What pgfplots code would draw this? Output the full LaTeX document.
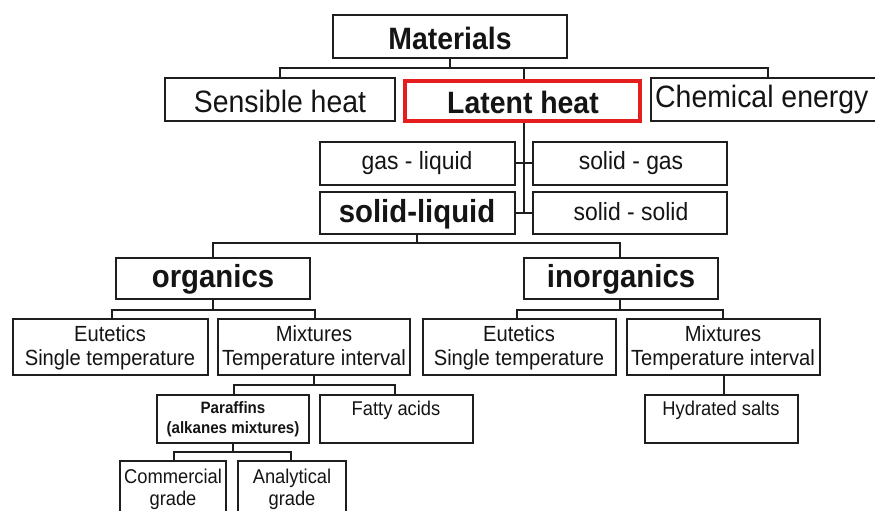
\documentclass[border=0pt]{standalone}
\usepackage{fontspec}
\setmainfont{Liberation Sans}
\usepackage{pgfplots}
\pgfplotsset{compat=1.18}
\definecolor{boxInk}{HTML}{1E1E1E}
\definecolor{hiRed}{HTML}{E41E1E}

% box from (x1,y1) to (x2,y2), pixel coordinates with y downwards
\newcommand{\bx}[4]{\addplot[boxInk, line width=1.5pt, line join=miter, mark=none]
  coordinates {(#1,#2) (#3,#2) (#3,#4) (#1,#4)} -- cycle;}
\newcommand{\conn}[1]{\addplot[boxInk, line width=1.4pt, mark=none] coordinates {#1};}
\newcommand{\fs}[2]{\fontsize{#1}{#2}\selectfont}
\tikzset{lab/.style={xscale=0.92, text=black!92}}

\begin{document}
\begin{tikzpicture}
\useasboundingbox (0,0) rectangle (875bp,511bp);
\begin{axis}[
  at={(0,0)}, anchor=south west,
  width=875bp, height=511bp, scale only axis,
  xmin=0, xmax=875, ymin=0, ymax=511,
  y dir=reverse,
  hide axis,
]
% boxes
\bx{333}{15}{567}{58}
\bx{165}{78}{395}{121}
\bx{651}{78}{882}{121}
\bx{320}{142}{515}{185}
\bx{533}{142}{727}{185}
\bx{320}{192}{515}{234}
\bx{533}{192}{727}{234}
\bx{116}{258}{310}{299}
\bx{524}{258}{718}{299}
\bx{13}{319}{208}{375}
\bx{218}{319}{410}{375}
\bx{423}{319}{616}{375}
\bx{627}{319}{820}{375}
\bx{157}{395}{309}{443}
\bx{320}{395}{473}{443}
\bx{645}{395}{798}{443}
\bx{120}{461}{226}{520}
\bx{238}{461}{346}{520}
\addplot[hiRed, line width=3.5pt, line join=miter, mark=none]
  coordinates {(405,81) (640,81) (640,121) (405,121)} -- cycle;

% connectors
\conn{(450,58) (450,68)}
\conn{(280,78) (280,68) (768,68) (768,78)}
\conn{(524,68) (524,79)}
\conn{(524,123) (524,213)}
\conn{(515,163) (533,163)}
\conn{(515,213) (533,213)}
\conn{(417,234) (417,243)}
\conn{(213,258) (213,243) (620,243) (620,258)}
\conn{(213,299) (213,310)}
\conn{(112,319) (112,310) (315,310) (315,319)}
\conn{(620,299) (620,310)}
\conn{(517,319) (517,310) (723,310) (723,319)}
\conn{(314,375) (314,385)}
\conn{(234,395) (234,385) (395,385) (395,395)}
\conn{(724,375) (724,395)}
\conn{(233,443) (233,452)}
\conn{(174,461) (174,452) (291,452) (291,461)}

% labels
\node[lab, font=\fs{31}{34}\bfseries] at (axis cs:450,38) {Materials};
\node[lab, font=\fs{31}{34}] at (axis cs:280,101) {Sensible heat};
\node[lab, font=\fs{31}{34}\bfseries] at (axis cs:523,102) {Latent heat};
\node[lab, font=\fs{31}{34}, anchor=west, inner sep=0pt] at (axis cs:655,100) {Chemical energy};
\node[lab, font=\fs{25}{28}] at (axis cs:417,163) {gas - liquid};
\node[lab, font=\fs{25}{28}] at (axis cs:631,163) {solid - gas};
\node[lab, font=\fs{32}{34}\bfseries] at (axis cs:417,214) {solid-liquid};
\node[lab, font=\fs{25}{28}] at (axis cs:631,212) {solid - solid};
\node[lab, font=\fs{32}{34}\bfseries] at (axis cs:213,279) {organics};
\node[lab, font=\fs{32}{34}\bfseries] at (axis cs:621,279) {inorganics};
\node[lab, font=\fs{22}{24}, align=center] at (axis cs:110,348) {Eutetics\\Single temperature};
\node[lab, font=\fs{22}{24}, align=center] at (axis cs:314,348) {Mixtures\\Temperature interval};
\node[lab, font=\fs{22}{24}, align=center] at (axis cs:519,348) {Eutetics\\Single temperature};
\node[lab, font=\fs{22}{24}, align=center] at (axis cs:723,348) {Mixtures\\Temperature interval};
\node[lab, font=\fs{16.5}{20}\bfseries, align=center] at (axis cs:233,419) {Paraffins\\(alkanes mixtures)};
\node[lab, font=\fs{20}{22}] at (axis cs:396,410) {Fatty acids};
\node[lab, font=\fs{20}{22}] at (axis cs:721,410) {Hydrated salts};
\node[lab, font=\fs{20}{22}, align=center] at (axis cs:173,489) {Commercial\\grade};
\node[lab, font=\fs{20}{22}, align=center] at (axis cs:292,489) {Analytical\\grade};
\end{axis}
\end{tikzpicture}
\end{document}
